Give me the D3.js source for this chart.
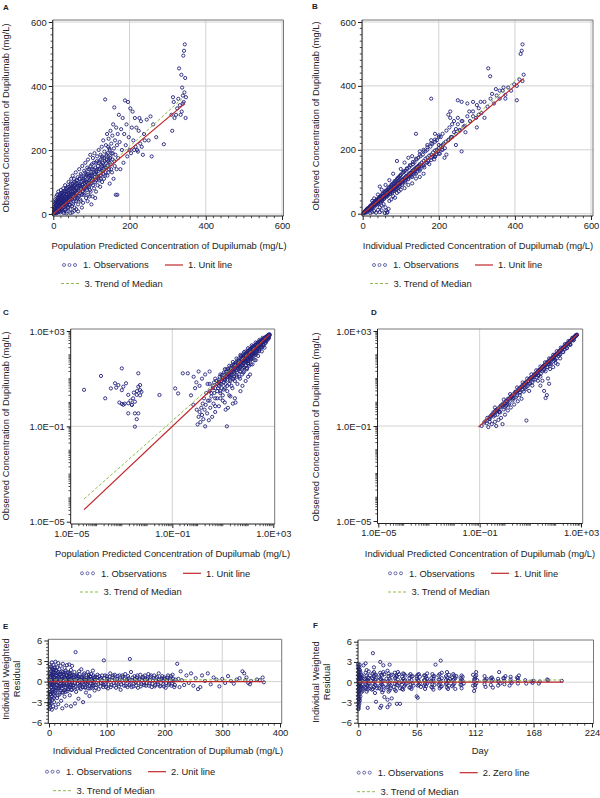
<!DOCTYPE html>
<html><head><meta charset="utf-8">
<script src="https://cdn.jsdelivr.net/npm/d3@7"></script>
<style>body{margin:0;background:#fff}svg{display:block}</style>
</head><body><svg id="chart" width="600" height="798"></svg>
<script>
// ---------------- DATA ----------------
const obsA = [[2,5],[3,15],[4,30],[5,8],[5,45],[6,20],[7,2],[8,35],[8,55],[9,12],[10,25],[10,60],[11,4],[12,40],[12,18],[13,70],[14,30],[15,8],[15,50],[16,22],[17,62],[18,38],[18,5],[19,15],[20,48],[20,75],[21,28],[22,10],[22,58],[23,35],[24,68],[25,20],[25,44],[26,80],[27,3],[27,52],[28,30],[29,62],[30,12],[30,40],[31,90],[32,55],[33,25],[34,72],[35,45],[35,8],[36,60],[37,35],[38,85],[39,18],[40,50],[40,100],
[41,30],[42,65],[43,78],[44,42],[45,95],[45,15],[46,55],[47,110],[48,70],[49,25],[50,85],[50,48],[51,120],[52,62],[53,38],[54,100],[55,75],[56,20],[57,90],[58,55],[59,130],[60,68],[60,40],[61,105],[62,82],[63,50],[64,115],[65,30],[66,95],[67,72],[68,140],[69,58],[70,88],[70,110],[71,45],[72,125],[73,78],[74,100],[75,60],[76,150],[77,92],[78,35],[79,118],[80,80],
[81,135],[82,65],[83,105],[84,160],[85,90],[86,50],[87,125],[88,75],[89,145],[90,100],[91,170],[92,60],[93,115],[94,85],[95,140],[96,110],[97,185],[98,70],[99,130],[100,95],[101,155],[102,120],[103,55],[104,175],[105,105],[106,140],[107,80],[108,190],[109,125],[110,100],[111,160],[112,70],[113,135],[114,115],[115,180],[116,90],[117,150],[118,125],[119,200],[120,105],
[121,165],[122,140],[123,85],[124,185],[125,120],[126,155],[127,210],[128,100],[129,175],[130,135],[131,230],[132,150],[133,110],[134,195],[135,165],[136,358],[137,130],[138,215],[139,180],[140,145],[141,250],[142,120],[143,190],[144,165],[145,235],[146,140],[147,205],[148,95],[149,175],[150,260],[151,155],[152,220],[153,190],[154,130],[155,245],[156,170],[157,280],[158,110],[159,205],[160,333],[161,150],[162,230],[163,185],[164,60],[165,270],[166,140],[167,215],[168,60],[169,250],[170,175],
[172,310],[174,225],[176,140],[178,265],[180,200],[182,300],[184,160],[186,250],[188,355],[190,215],[192,280],[194,180],[196,350],[198,240],[200,200],[202,330],[204,190],[206,270],[208,320],[210,230],[212,200],[214,300],[216,210],[218,270],[220,200],[222,195],[224,260],[226,300],[228,220],[230,290],[232,210],[235,185],[238,250],[240,230],[245,295],[250,230],[255,305],[258,180],[262,280],[270,240],[290,218],
[310,310],[312,260],[314,365],[316,350],[318,300],[322,310],[325,330],[328,360],[330,455],[332,340],[334,310],[336,435],[338,395],[340,370],[341,495],[342,350],[343,510],[344,380],[345,530],[346,425],[347,300],[348,365],[340,345],[337,320],
[35,2],[45,3],[55,10],[65,8],[75,20],[50,5],[60,15],[90,40],[100,30],[110,50],[95,55],
[1,1],[2,10],[3,22],[4,3],[5,35],[6,12],[7,28],[8,18],[9,42],[10,6],[11,32],[12,52],[13,14],[14,46],[15,26],[16,38],[17,10],[18,58],[19,30],[20,20],[21,42],[22,65],[23,16],[24,50],[25,32],[26,8],[27,40],[28,72],[29,22],[30,52],[31,35],[32,15],[33,48],[34,60],[35,28],[36,82],[37,50],[38,22],[39,65],[40,38],[42,55],[44,28],[46,80],[48,45],[50,65],[52,32],[54,88],[56,50],[58,75],[60,95],[62,45],[64,70],[66,55],[68,90],[70,65],[72,40],[74,85],[76,70],[78,105],[80,60],[82,95],[84,115],[86,80],[88,100],[90,125],[92,90],[94,105],[96,75],[98,120],[100,110],[104,90],[108,130],[112,105],[116,120],[120,140],[124,110],[128,150],[132,125],[136,145],[140,170],[144,130],[148,160],[152,140],[156,190],[160,165]];
const obsAcore = [[3,8],[4,18],[6,40],[7,15],[8,25],[9,5],[10,38],[11,20],[12,30],[13,45],[14,8],[15,35],[16,55],[17,25],[18,45],[19,65],[20,35],[21,55],[22,25],[23,50],[24,38],[25,60],[26,30],[27,65],[28,48],[29,35],[30,70],[31,55],[32,42],[33,78],[34,32],[35,62],[36,48],[37,72],[38,42],[39,55],[40,75],[41,45],[42,85],[43,58],[44,68],[45,50],[46,90],[47,62],[48,82],[49,48],[50,95],[51,70],[52,80],[53,58],[54,110],[55,65],[56,85],[57,72],[58,100],[59,60],[60,82],[62,105],[64,88],[66,75],[68,110],[70,95],[72,80],[74,120],[76,92],[78,72],[80,110],[82,85],[84,130],[86,100],[88,120],[90,85],[92,140],[94,120],[96,98],[98,150],[100,125],[102,140],[104,110],[106,160],[108,115],[110,145],[112,130],[114,165],[116,140],[118,110],[120,160],[122,120],[124,170],[126,135],[128,180],[130,160],[132,140],[134,175],[136,120],[138,160],[140,185],[142,150],[144,210],[146,170],[148,200],[150,180]];
const unitA = [[0,0],[345,345]];
const trendA = [[0,0],[170,178],[341,364]];

const obsB = [[2,1],[4,5],[5,2],[6,8],[8,6],[9,12],[10,9],[11,4],[12,14],[13,11],[14,17],[15,13],[16,10],[17,20],[18,16],[19,22],[20,18],[21,14],[22,26],[23,20],[24,28],[25,22],[26,18],[27,31],[28,25],[29,34],[30,27],[31,22],[32,36],[33,30],[34,40],[35,32],[36,28],[37,42],[38,35],[39,45],[40,37],[41,30],[42,48],[43,40],[44,50],[45,42],[46,36],[47,54],[48,45],[49,56],[50,47],[51,40],[52,60],[53,50],[54,62],[55,52],[56,46],[57,66],[58,55],[59,68],[60,57],[62,52],[63,72],[64,60],[65,75],[66,62],[67,58],[68,78],[69,66],[70,82],[71,68],[72,62],[73,85],[74,71],[75,88],[76,73],[77,66],[78,90],[79,75],[80,95],[81,78],[82,72],[83,96],[84,80],[85,100],[86,82],[87,76],[88,104],[89,86],[90,108],[91,88],[92,80],[93,110],[94,90],[95,115],[96,92],[97,85],[98,118],[99,96],[100,120],
[102,98],[104,90],[105,128],[106,104],[108,130],[110,105],[112,98],[113,135],[115,112],[117,140],[118,115],[120,108],[122,145],[124,120],[126,150],[128,122],[130,115],[132,155],[134,130],[136,160],[138,132],[140,125],[142,170],[144,140],[146,175],[148,142],[150,135],[152,180],[155,150],[158,185],[160,152],[162,145],[165,195],[168,160],[170,200],[172,165],[175,155],[178,210],[180,175],[183,218],[185,180],[188,170],[190,225],[193,185],[195,230],[198,195],[200,215],[203,188],[205,240],[208,200],[210,250],[213,220],[216,205],[220,260],[225,230],[228,270],[232,240],[235,280],[240,255],[245,265],[250,300],[255,260],[262,290],[268,275],[275,305],[282,290],[290,320],[298,300],[305,330],[312,315],[320,350],[328,335],[336,360],[345,345],[352,370],[360,360],[368,385],[375,372],[382,395],[390,385],[398,405],[405,400],[412,420],[420,415],[423,435],
[20,2],[25,5],[30,8],[35,3],[40,12],[45,20],[50,25],[55,30],[60,20],[62,10],[65,5],[68,15],[70,40],[75,45],[80,55],[85,50],[90,65],[95,70],[100,75],[110,80],[120,90],[130,95],[140,110],[150,115],[160,125],[45,5],[50,10],[58,2],[64,3],
[25,40],[30,48],[40,60],[45,85],[50,75],[60,90],[70,105],[80,125],[90,165],[100,140],[110,160],[120,175],[130,180],[140,250],[150,195],[160,200],[170,215],[180,230],[190,250],
[3,3],[7,7],[11,11],[15,16],[19,18],[23,24],[27,27],[31,32],[35,36],[39,38],[43,44],[47,47],[51,52],[55,56],[59,58],[63,64],[67,68],[71,72],[75,74],[79,80],[83,84],[87,86],[91,92],[95,96],[99,100],[103,104],[107,108],[111,112],[115,116],[119,120],[123,124],[127,128],[131,132],[135,136],[139,140],[143,144],[147,148],[151,152],
[180,360],[225,310],[230,320],[250,355],[260,350],[275,345],[290,350],[300,340],[310,350],[330,455],[335,430],[340,375],[350,390],[360,385],[370,395],[375,360],[405,355],[420,530],[418,510],[415,500],[260,195],[245,215],[270,255],[290,305],[305,310],[320,300],[300,270],[200,240],[190,180],[210,200],[215,175],[220,185],[230,300],[240,290],[250,280],[260,290],[280,320]];
const obsBcore = [[5,5],[10,12],[14,13],[18,19],[22,21],[26,27],[30,32],[34,33],[38,40],[42,41],[46,48],[50,50],[54,55],[58,60],[62,61],[66,68],[70,70],[74,76],[78,77],[82,84],[86,88],[90,90],[94,97],[98,98],[102,106],[106,108],[110,112],[114,118],[118,120],[122,126],[126,128],[130,134],[134,138],[138,142],[142,146],[146,150],[150,155],[155,160],[160,165],[165,172],[170,176],[175,182],[180,185],[185,192],[190,198],[195,200],[200,205],[205,212],[210,215],[218,225],[226,232],[235,240],[245,250],[255,262],[265,272],[8,4],[16,12],[24,18],[32,26],[40,33],[48,40],[56,48],[64,55],[72,63],[80,70],[88,78],[96,85],[104,95],[112,102],[120,110],[128,118],[136,125],[144,132],[152,140],[160,150],[170,160],[180,168],[190,178],[200,188],[12,16],[20,25],[28,35],[36,44],[44,53],[52,63],[60,72],[68,82],[76,92],[84,102],[92,112],[100,122],[108,133],[116,142],[124,152],[132,162],[140,172],[150,185],[160,195],[170,208],[180,220],[190,232],[200,245]];
const unitB = [[0,0],[423,423]];
const trendB = [[0,0],[210,214],[414,431]];

const obsC = [[3.2e-5,3.4],[1.5e-4,13],[2.2e-4,1.5],[3.7e-4,3.9],[5.4e-4,6.4],[7.3e-4,5.4],[1e-3,27],[1e-3,3.3],[1.15e-3,4.6],[1.47e-3,6.4],[1.8e-3,2.1],[1.8e-3,0.93],[1e-3,0.87],[2.5e-3,0.8],[3.3e-3,1.08],[3.9e-3,2.1],[4.5e-3,4.6],[4.5e-3,16.8],[5.3e-3,5.4],[5.3e-3,3.3],[3.3e-3,0.35],[3.9e-3,0.2],[3.3e-3,0.097],[1.8e-3,0.35],[1.15e-3,0.8],[2.5e-3,0.8],[4.5e-3,0.35],[5.3e-3,2.0],[6e-3,2.8],[4e-3,3.0],[2.2e-3,1.2],[1.3e-3,0.9],[8e-4,1.0],[6e-4,4.2],[2.8e-3,1.5],[3e-3,2.6],
[3.1e-2,2.07],[0.13,3.9],[0.17,2.4],[0.26,16.8],[0.41,16.8],[0.68,0.8],[0.93,0.5],
[1.0,0.12],[1.1,0.25],[1.2,0.4],[1.3,0.15],[1.4,0.6],[1.5,0.3],[1.6,0.9],[1.7,0.2],[1.8,1.5],[1.9,0.5],[2.0,0.1],[2.1,0.8],[2.2,2.5],[2.4,0.35],[2.6,1.2],[2.8,0.18],[3.0,3],[3.2,0.6],[3.5,1.8],[3.8,0.25],[4,5],[4.3,0.9],[4.6,2.5],[5,0.4],[5.5,8],[6,1.5],[6.5,4],[7,0.7],[7.5,12],[8,2.5],[9,6],[10,1.2],[10,15],[11,3.5],[12,9],[13,0.5],[14,25],[15,5],[16,12],[18,2],[20,30],[20,8],[22,18],[24,4],[26,40],[28,12],[30,25],[32,1.0],[34,50],[36,18],[38,6],[40,35],[42,70],[45,25],[48,10],[50,55],[52,90],[55,35],[58,15],[60,75],[63,45],[66,110],[70,30],[72,60],[75,90],[80,140],[85,50],[90,110],[95,70],[100,150],[105,40],[110,120],[115,90],[120,180],[125,60],[130,140],[140,200],[145,100],[150,160],[160,230],[170,120],[180,190],[190,260],[200,150],[210,220],[220,300],[240,180],[250,260],[260,340],[280,220],[300,300],[320,380],[340,280],[350,350],[380,420],[400,330],[450,480],[500,450],[550,550],[600,600],[650,680],[700,700],[620,520],[480,400],
[0.55,2],[0.7,12],[0.8,4],[0.9,7],[1.1,20],[1.5,10],[2,15],[3,20],[2.5,6],[1.2,5],[14.5,0.1],
[30,1.5],[50,3],[60,5],[80,8],[100,12],[120,15],[70,20],[90,25],[110,35],[150,40],[200,60],[130,70],
[5,4],[6,6],[7,5],[8,9],[9,8],[10,11],[12,10],[14,13],[16,17],[18,15],[20,22],[23,20],[26,28],[30,27],[34,36],[38,33],[42,45],[47,42],[52,56],[58,50],[64,68],[70,62],[78,82],[86,75],[95,100],[105,92],[115,120],[128,110],[140,150],[155,135],[170,180],[185,165],[200,210],[220,195],[240,250],[265,235],[290,300],[320,290],[350,370],[390,360],[430,450],[470,440],[520,540],[570,560],[630,650],[680,660],
[5,1.5],[8,3],[12,4],[18,6],[25,10],[35,14],[50,20],[70,30],[100,45],[140,70],[200,100],[280,150],[380,220],[500,320],[10,2],[15,3],[22,5],[30,8],[45,12],[65,18],[90,28],[130,40],[180,60],[250,90],[350,140],[450,200],
[3,6],[5,10],[8,15],[12,25],[18,35],[25,50],[35,70],[50,100],[70,130],[100,190],[140,250],[200,330],[280,420],[380,520],
[11,7],[13,16],[15,9],[17,21],[19,12],[21,26],[24,15],[27,33],[29,18],[33,22],[37,45],[41,27],[44,55],[49,32],[54,66],[59,38],[62,80],[68,45],[74,95],[82,55],[88,115],[96,62],[108,130],[118,75],[126,165],[135,88],[148,190],[162,100],[175,220],[192,120],[205,260],[228,140],[245,300],[270,170],[295,350],[330,210],[360,420],[400,260],[440,500],[490,330],[540,600],[590,420],[640,700],[680,520],[700,640],[720,720],[650,600],[560,500],[460,380],[410,400],[310,260],[230,190],[160,130],[110,85],[80,60],[55,42],[38,28],[26,19],[18,13],[12,9],[8,6],
[3,1.2],[5,0.7],[8,1.5],[12,1.0],[16,0.6],[20,1.8],[25,0.9]];
const obsCcore = [[3.5,2.5],[4.5,7],[6,3],[7,9],[9,4],[11,18],[13,6],[16,25],[19,9],[23,35],[27,10],[32,45],[36,12],[42,60],[48,20],[55,85],[62,28],[70,100],[80,35],[90,130],[100,55],[115,160],[130,65],[150,220],[170,90],[190,250],[215,120],[240,320],[270,140],[300,380],[340,200],[380,460],[420,260],[470,540],[520,380],[580,620],[640,480],[690,680],[9,14],[14,20],[21,14],[31,38],[46,30],[68,80],[98,70],[145,120],[210,180],[300,240],[440,360],[600,520],[25,25],[40,40],[60,60],[90,90],[135,135],[200,200],[300,300],[450,450],[15,15],[10,10],[7,7],[4,4]];
const unitC = [[3.2e-5,3.2e-5],[700,700]];
const trendC = [[3.2e-5,9e-5],[0.1,0.17],[700,700]];

const obsD = [[0.3,0.3],[0.5,0.45],[0.7,0.75],[1,0.9],[1.3,1.4],[1.8,1.7],[2.5,2.6],[3.2,3],[4,4.2],[5,4.8],[6.5,6.8],[8,7.5],[10,10.5],[12,11.5],[15,15.5],[18,17],[22,23],[27,26],[33,34],[40,38],[48,50],[58,55],[70,72],[85,82],[100,104],[120,115],[145,150],[170,165],[200,205],[240,235],[290,295],[340,335],[400,410],[470,460],[550,560],[620,610],[700,700],
[0.4,0.6],[0.6,0.4],[0.9,1.3],[1.2,0.8],[1.6,2.2],[2.2,1.5],[3,4.2],[3.8,2.6],[5,6.8],[6,4],[7.5,10],[9,6],[11,15],[13,9],[17,22],[20,13],[25,32],[30,20],[38,48],[45,30],[55,70],[65,42],[80,100],[95,60],[110,140],[130,90],[160,200],[190,130],[230,280],[270,190],[320,380],[380,280],[450,520],[520,420],[600,650],
[0.19,0.13],[0.22,0.09],[0.25,0.2],[0.3,0.12],[0.35,0.25],[0.4,0.15],[0.45,0.1],[0.5,0.3],[0.55,0.18],[0.6,0.4],[0.7,0.22],[0.8,0.12],[0.9,0.5],[1.0,0.3],[1.1,0.7],[1.3,0.45],[1.5,0.9],[1.7,0.6],[2,1.2],[2.3,0.8],[2.7,1.6],[3.2,1.1],[3.8,2],[4.5,1.4],[5.5,2.8],[6.5,3.5],[7,0.17],[9,3],[12,5],[20,8],[25,12],[40,20],[50,10],[60,25],[80,30],[100,45],[120,40],[150,70],
[25,5],[35,3],[45,2],[55,6],[40,1.5],[30,8],
[0.15,0.14],[0.2,0.22],[0.25,0.24],[0.35,0.38],[0.45,0.42],[0.6,0.62],[0.8,0.78],[1.1,1.15],[1.5,1.45],[2,2.1],[2.8,2.7],[3.5,3.7],[4.5,4.3],[5.5,5.8],[7,6.6],[9,9.5],[11,10.5],[14,14.5],[16,15.2],[20,21],[24,23],[30,31],[36,34],[44,46],[52,50],[63,66],[76,72],[92,96],[110,105],[132,138],[158,150],[185,192],[220,212],[260,270],[310,300],[370,380],[430,420],[500,510],[580,570],[660,670],
[8,5],[12,7],[18,11],[26,16],[34,22],[48,30],[62,40],[85,55],[110,70],[150,100],[200,130],[280,190],[380,260]];
const obsDcore = [[0.12,0.1],[0.17,0.16],[0.23,0.2],[0.28,0.27],[0.33,0.3],[0.38,0.36],[0.42,0.45],[0.48,0.5],[0.52,0.48],[0.65,0.6],[0.75,0.7],[0.85,0.9],[0.95,0.85],[1.2,1.1],[1.4,1.3],[1.7,1.8],[1.9,1.7],[2.4,2.3],[2.6,2.8],[3.4,3.2],[4.2,4],[4.8,5.1],[6,5.6],[6.8,7],[8.5,8],[10.5,10],[13,12.5],[15,14],[19,18.5],[23,22],[28,28],[32,30],[37,38],[42,40],[50,48],[56,57],[66,63],[74,75],[82,80],[90,92],[105,100],[125,122],[140,135],[165,160],[180,182],[210,205],[250,245],[275,280],[330,320],[360,365],[420,410],[490,480],[540,550],[610,600],[680,690],[0.25,0.15],[0.4,0.28],[0.65,0.38],[1.0,0.6],[1.4,0.8],[2.0,1.4],[3,1.9],[4,2.6],[5,3.4],[7,4.5],[10,6.5],[15,9],[22,14],[35,25],[55,40],[90,65],[140,105],[230,170],[350,270],[500,400]];
const unitD = [[0.09,0.09],[700,700]];
const trendD = [[0.09,0.095],[700,700]];

const obsE = [[0.5,-4],[1,-3.5],[1,2.5],[1.5,-2.8],[2,1.8],[2,-1.5],[2.5,0.5],[3,-3.2],[3,2.2],[3.5,-0.8],[4,1.2],[4,-2.2],[4.5,0.2],[5,-4.1],[5,2.8],[5.5,-1.2],[6,0.8],[6,-2.6],[6.5,1.9],[7,-0.4],[7,-3.6],[7.5,1.4],[8,-1.8],[8,2.4],[8.5,0.3],[9,-0.9],[9,-3],[9.5,1.7],[10,-2.1],[10,0.6],
[11,2.9],[11,-1.4],[12,0.9],[12,-3.8],[13,-0.3],[13,1.6],[14,-2.4],[14,2.1],[15,0.4],[15,-1],[16,2.7],[16,-3.3],[17,1.1],[17,-0.6],[18,-1.9],[18,1.8],[19,0.1],[20,2.3],[20,-1.3],[21,-2.8],[21,0.7],[22,1.5],[22,-0.5],[23,-3.9],[24,2.6],[24,0.2],[25,-1.6],[25,1.2],[26,-0.2],[27,2],[27,-2.2],[28,0.5],[29,-0.9],[29,1.6],[30,-3.5],[31,0.9],[31,2.4],[32,-1.4],[33,0.3],[34,1.3],[34,-0.4],[35,2.5],[36,-2],[36,0.7],[37,-0.8],[38,1.7],[38,-3.6],[39,0.1],[40,-1.2],[40,2.3],
[42,0.6],[43,-0.9],[44,1.4],[45,-3.2],[46,4.3],[46,0.2],[47,-1.5],[48,1.0],[49,-0.3],[50,0.8],[51,-2.5],[52,1.5],[53,-0.6],[54,0.3],[55,-1.1],[56,1.8],[57,-0.2],[58,0.7],[59,-3.0],[60,0.4],[61,1.2],[62,-0.8],[63,0.1],[64,-1.6],[65,0.9],[66,-0.4],[67,1.4],[68,-1.0],[69,0.5],[70,-2.1],[71,0.8],[72,-0.3],[73,1.1],[74,-0.9],[75,0.2],[76,1.6],[77,-0.6],[78,0.6],[79,-1.3],[80,0.3],[82,-0.5],[84,1.0],[86,-1.1],[88,0.4],[90,-0.2],[92,0.9],[94,-0.8],[95,3.1],[96,0.5],[98,-0.4],[100,0.8],
[102,-1.0],[104,0.3],[106,1.2],[108,-0.5],[110,0.6],[112,-0.2],[114,1.0],[116,-0.9],[118,0.4],[120,-0.4],[122,0.9],[124,-1.2],[126,0.2],[128,0.7],[130,-0.6],[132,1.1],[134,0.1],[136,-0.8],[138,0.5],[140,3.3],[140,-0.3],[142,1.4],[144,0.2],[146,-0.7],[148,0.8],[150,-0.1],[152,0.6],[154,-0.9],[156,0.3],[158,1.0],[160,-0.4],[162,0.5],[164,-0.2],[166,0.9],[168,-0.6],[170,0.4],[172,1.1],[174,-0.3],[176,0.7],[178,-0.8],[180,0.2],[182,0.9],[184,-0.5],[186,0.5],[188,-0.1],[190,1.2],[192,-0.7],[194,0.3],[196,0.8],[198,-0.4],[200,0.6],[202,-0.9],[204,0.2],[206,0.9],[208,-0.3],[210,0.5],[212,-0.6],[214,1.0],[216,0.1],[218,-0.5],
[222,2.6],[224,0.4],[226,-0.8],[228,1.5],[230,0.2],[234,-0.5],[238,0.9],[242,-0.2],[246,1.2],[250,-0.6],[254,0.5],[258,-1.1],[262,-0.8],[265,0.9],[270,0.1],[275,1.2],[280,-0.4],[285,0.6],[290,0.3],[295,-0.7],[300,0.4],[305,-0.2],[310,0.8],[315,0.1],[320,-0.3],[325,0.3],[330,0.5],[335,1.5],[338,1.2],[340,0.2],[342,0.6],[345,-0.2],[348,-0.4],[350,0.1],[360,0.3],[365,0.2],[370,0.6],[372,-0.1],
[1,0],[2,-0.6],[3,0.9],[4,-1.4],[5,0.3],[6,-0.2],[7,1.1],[8,-0.7],[9,0.5],[10,-0.1],[11,0.9],[12,-0.9],[13,0.4],[14,-0.5],[15,1.2],[16,-0.1],[17,0.6],[18,-0.8],[19,1.0],[20,-0.3],[21,0.2],[22,-1.0],[23,0.8],[24,-0.6],[25,0.1],[26,1.0],[27,-0.5],[28,-1.2],[29,0.4],[30,0.9],[31,-0.3],[32,0.6],[33,-0.7],[34,0.2],[35,-0.1],[36,1.1],[37,0.4],[38,-0.5],[39,0.8],[40,-0.2],[42,-0.5],[44,0.3],[46,-0.8],[48,0.5],[50,-0.3],[52,0.2],[54,-0.9],[56,0.6],[58,-0.4],[60,1.0],[62,0.2],[64,-0.2],[66,0.6],[68,0.3],[70,-0.6],[72,0.7],[74,0.1],[76,-0.3],[78,-0.1],[80,0.7],[85,0.2],[90,0.5],[95,-0.5],[100,0.1],
[0.5,-1.5],[0.8,-2.3],[1.2,-3],[1.5,-1.9],[2.2,-3.8],[2.8,-2.5],[3.3,-1.8],[0.7,-3.2]];
const obsEcore = [[0.5,0.3],[1,1.2],[1.5,-0.4],[2,0.7],[2.5,-1.8],[3,-0.2],[3.5,1.5],[4,-0.9],[4.5,2.0],[5,-0.5],[5.5,1.0],[6,-1.6],[6.5,0.1],[7,1.7],[7.5,-1.1],[8,0.6],[8.5,-2.4],[9,1.3],[9.5,-0.3],[10,2.1],[10.5,-1.6],[11,0.2],[12,1.6],[13,-1.3],[14,0.9],[15,-2.0],[16,1.4],[17,-1.0],[18,0.4],[19,-1.6],[20,1.1],[21,-0.7],[22,0.4],[23,-1.6],[24,1.4],[25,-0.4],[26,-1.3],[27,0.7],[28,1.3],[29,-1.5],[30,0.2],[31,-0.6],[32,1.4],[33,-1.1],[34,0.8],[35,-0.8],[36,0.3],[37,1.2],[38,-1.2],[39,0.5],[40,1.0],[41,-0.6],[43,0.9],[45,-0.2],[47,0.8],[49,-1.0],[51,0.5],[53,1.1],[55,-0.4],[57,0.6],[59,-0.8],[61,0.3],[63,-0.9],[65,0.2],[67,-0.3],[69,1.0],[71,-1.0],[73,0.4],[75,-0.6],[77,0.9],[79,0.2],[81,-0.9],[83,0.6],[85,-0.4],[87,0.8],[89,-0.7],[91,0.2],[93,-0.3],[97,0.9],[99,-0.8],[101,0.4],[103,-0.4],[105,0.7],[107,-0.8],[109,0.2],[111,0.9],[113,-0.6],[115,0.4],[117,-0.2],[119,0.8],[121,-0.7],[123,0.3],[125,-0.4],[127,0.9],[129,-0.2],[131,0.5],[133,-0.6],[135,0.3],[137,0.8],[139,-0.5],[141,0.2],[143,-0.8],[145,0.6],[147,-0.3],[149,0.4],[151,-0.6],[153,0.9],[155,-0.2],[157,0.4],[159,-0.7],[161,0.2],[163,0.7],[165,-0.5],[167,0.3],[169,-0.2],[171,0.6],[173,-0.6],[175,0.2],[177,0.9],[179,-0.3],[181,0.5],[183,-0.7],[185,0.1],[187,0.7],[189,-0.4],[191,0.3],[193,-0.6],[195,0.5],[197,0.1],[199,-0.7],[201,0.4],[203,-0.2],[205,0.6],[207,-0.5],[209,0.2],[211,0.8],[213,-0.3],[215,0.4],[217,-0.8],[219,0.3]];
const unitE = [[0,0],[372,0]];
const trendE = [[0,0.25],[372,0.25]];

const obsF = [[0,-4],[0,-3],[0,-2],[0,-1],[0,0],[0,1],[0,2],[0,2.7],[0.5,-3.6],[0.5,-2.5],[0.5,-1.5],[0.5,-0.5],[0.5,0.5],[0.5,1.5],[1,-3.2],[1,-1.8],[1,-0.8],[1,0.3],[1,1.2],[1,2.2],[1.5,-2.7],[1.5,-0.2],[1.5,0.8],[1.5,1.8],[2,-1.2],[2,0.1],[2,1.5],[2.5,-0.6],[2.5,0.6],[3,-1.5],[3,0.2],[3,1.1],[4,-0.4],[4,0.9],[5,-1.0],[5,2.5],
[6,-0.8],[6,0.5],[7,1.4],[7,-0.3],[7,2.8],[8,-1.4],[8,0.2],[8,1.0],[9,-0.5],[9,-3.8],[9,0.7],[10,1.6],[10,-0.9],[10,0.1],
[13,-1.1],[13,0.6],[14,1.3],[14,-0.2],[14,4.3],[15,-0.7],[15,0.9],[15,2.2],[16,-1.6],[16,0.3],[17,1.1],[17,-0.5],[17,-2.9],
[20,-0.9],[20,0.7],[21,-3.8],[21,1.4],[21,3.0],[22,-0.3],[22,-3.5],[22,0.4],[23,1.0],[23,-1.5],[24,2.5],[24,-0.6],[24,0.2],[25,-2.2],[25,1.2],
[27,-0.8],[27,0.5],[28,-3.7],[28,1.7],[28,-2.6],[29,-0.2],[29,0.9],[30,-1.2],[30,2.6],[30,-3.3],[31,0.3],[31,-0.9],[32,1.1],[32,-2.4],
[34,-0.7],[35,0.6],[35,1.4],[36,-1.3],[36,0.1],[37,0.9],[37,-3.2],[38,-0.5],[38,0.4],[39,1.2],[40,-0.9],[40,-3.2],
[42,0.8],[42,-0.4],[43,1.3],[43,-1.1],[44,0.2],[44,-0.6],[45,1.0],[46,-0.2],
[49,-0.8],[49,0.6],[50,1.2],[50,-0.3],[51,0.3],[51,-1.0],[52,0.9],[53,-0.5],
[56,-2.1],[56,0.5],[57,-2.3],[57,1.1],[58,-0.4],[58,0.2],[59,0.8],[60,-0.7],
[63,1.0],[63,-0.5],[64,0.3],[64,-1.0],[65,0.8],[66,-0.2],[66,1.3],[67,0.1],
[70,-0.7],[70,0.6],[71,1.2],[71,-0.3],[72,0.2],[72,-1.1],[73,0.9],[74,2.6],
[77,-0.4],[77,1.0],[78,0.4],[78,-0.9],[79,3.2],[79,0.1],[80,1.4],[80,-0.6],
[84,-0.3],[84,0.9],[85,1.5],[85,-0.8],[86,0.2],[87,-0.5],[87,1.1],[88,0.5],
[90,-0.6],[90,0.7],[91,1.2],[92,-0.2],[92,0.4],[93,-1.0],[94,0.9],
[98,-0.4],[98,0.6],[99,1.0],[99,-0.9],[100,0.2],[101,-0.2],
[110,-0.5],[110,1.1],[111,-1.3],[111,0.4],[112,0.8],[112,-0.8],[113,-0.2],[113,1.5],[114,0.3],
[121,0.9],[121,-0.3],[122,0.3],[122,-0.7],[123,0.5],
[127,-0.4],[127,0.6],[128,0.2],[129,-0.8],[129,0.4],
[134,0.5],[134,-0.5],[135,1.5],[135,0.1],[136,-0.2],
[139,0.6],[140,-0.3],[140,0.2],[141,0.9],
[145,-0.5],[146,0.4],[146,0.8],[147,-0.1],
[152,0.7],[153,-0.2],[153,0.3],[154,1.0],
[166,0.1],[167,-0.1],[168,0.2],[173,-0.2],[174,0.1],[181,0.4],[182,0.3],[195,0.2]];
const obsFcore = [[0,-3.5],[0,-2.5],[0,-1.5],[0,-0.5],[0,0.5],[0,1.5],[0,2.3],[0.3,-3.9],[0.3,-2.1],[0.3,-1.1],[0.3,0.2],[0.3,1.1],[0.8,-2.9],[0.8,-1.3],[0.8,-0.2],[0.8,0.9],[0.8,1.9],[1.2,-2.4],[1.2,-0.5],[1.2,0.6],[1.2,2.6],[2,-2.1],[2,-0.6],[2,0.8],[3,-0.7],[3,0.7],[4,0.2],[4,-1.3],
[7,-0.9],[7,0.4],[8,-0.4],[8,1.8],[9,0.3],[9,-1.1],[10,0.6],[10,-0.2],[11,1.0],[11,-0.6],
[14,0.5],[14,-1.0],[15,0.1],[15,1.5],[16,-0.4],[16,1.0],[17,0.4],[18,-0.9],
[21,-0.5],[21,0.5],[22,1.1],[22,-1.1],[23,0.2],[23,-0.4],[24,1.5],[24,-1.2],
[28,0.1],[28,-0.7],[29,1.3],[29,-1.4],[30,0.5],[30,-0.3],[31,1.0],[31,-0.5],
[35,-0.2],[35,-1.1],[36,0.7],[36,1.0],[37,-0.4],[38,1.5],[39,-0.1],
[42,0.2],[42,-1.0],[43,0.5],[44,1.2],[45,-0.4],[45,0.3],
[49,0.1],[49,1.0],[50,-0.8],[51,0.8],[52,-0.2],
[56,0.9],[57,-0.5],[57,0.3],[58,1.2],[59,-0.2],
[63,0.3],[64,-0.3],[64,1.0],[65,-0.6],[66,0.5],
[70,0.1],[71,-0.8],[72,0.9],[72,0.5],[73,-0.4],
[77,0.4],[78,1.2],[78,-0.2],[79,-0.7],[80,0.6],
[84,0.3],[85,-0.2],[85,0.7],[86,-1.0],[87,0.2],
[91,-0.4],[91,0.3],[92,1.0],[93,0.6],
[98,0.1],[99,0.4],[99,-0.4],[100,0.8],
[111,0.1],[112,0.5],[112,-0.4],[113,1.0],
[121,0.3],[128,0.7],[134,0.1],[140,0.6],[146,0.1],[153,0.6],[160,0.3],[161,-0.2]];
const zeroF = [[0,0],[196,0]];
const trendF = [[0,0.1],[100,0.15],[196,0.35]];

const ticksConc = [0,200,400,600];
const ticksLog = [1e-5,1e-1,1e3];
const labelsLog = ["1.0E\u221205","1.0E\u221201","1.0E+03"];
const ticksIpredE = [0,100,200,300,400];
const ticksRes = [-6,-3,0,3,6];
const labelsRes = ["\u22126","\u22123","0","3","6"];
const ticksDay = [0,56,112,168,224];

// ---------------- DRAWING ----------------
const FONT = "'Liberation Sans', Arial, Helvetica, sans-serif";
const FS = 9.4;
const RED = "#c0272d", GREEN = "#8fbb4a", NAVY = "#23237c", INK = "#222";
const svg = d3.select("#chart");

function minorLinear(dom, step, majors) {
  const out = [];
  for (let v = dom[0]; v <= dom[1] + 1e-9; v += step) {
    const r = Math.round(v * 1000) / 1000;
    if (!majors.some(m => Math.abs(m - r) < 1e-9)) out.push(r);
  }
  return out;
}
function minorLog(lo, hi) {
  const out = [];
  for (let e = lo; e < hi; e++) for (let k = 1; k <= 9; k++) {
    if (k === 1 && e === lo) continue;
    out.push(k * Math.pow(10, e));
  }
  return out;
}

function drawPanel(p) {
  const g = svg.append("g");
  const xs = (p.log ? d3.scaleLog() : d3.scaleLinear()).domain(p.xDom).range(p.xRange);
  const ys = (p.log ? d3.scaleLog() : d3.scaleLinear()).domain(p.yDom).range(p.yRange);
  const [fl, ft, fr, fb] = p.frame;

  g.append("g").selectAll("line").data(p.xGrid).join("line")
    .attr("x1", d => xs(d)).attr("x2", d => xs(d)).attr("y1", ft).attr("y2", fb)
    .attr("stroke", "#d2d2d2").attr("stroke-width", 1);
  g.append("g").selectAll("line").data(p.yGrid).join("line")
    .attr("y1", d => ys(d)).attr("y2", d => ys(d)).attr("x1", fl).attr("x2", fr)
    .attr("stroke", "#d2d2d2").attr("stroke-width", 1);

  g.append("g").selectAll("circle").data(p.obs).join("circle")
    .attr("cx", d => xs(d[0])).attr("cy", d => ys(d[1])).attr("r", 1.6)
    .attr("fill", "none").attr("stroke", NAVY).attr("stroke-width", 0.9);

  const line = d3.line().x(d => xs(d[0])).y(d => ys(d[1]));
  g.append("path").datum(p.trend).attr("d", line).attr("fill", "none")
    .attr("stroke", GREEN).attr("stroke-width", 1).attr("stroke-dasharray", "3,2");
  g.append("path").datum(p.ref).attr("d", line).attr("fill", "none")
    .attr("stroke", RED).attr("stroke-width", 1.2);

  g.append("line").attr("x1", fl).attr("x2", fr).attr("y1", ft).attr("y2", ft).attr("stroke", "#777");
  g.append("line").attr("x1", fr).attr("x2", fr).attr("y1", ft).attr("y2", fb).attr("stroke", "#777");
  g.append("line").attr("x1", fl).attr("x2", fl).attr("y1", ft).attr("y2", fb).attr("stroke", INK);
  g.append("line").attr("x1", fl).attr("x2", fr).attr("y1", fb).attr("y2", fb).attr("stroke", INK);

  const axB = d3.axisBottom(xs).tickValues(p.xTicks).tickFormat((d, i) => p.xLabels[i]).tickSize(4).tickPadding(2);
  const gb = g.append("g").attr("transform", `translate(0,${fb})`).call(axB);
  const axL = d3.axisLeft(ys).tickValues(p.yTicks).tickFormat((d, i) => p.yLabels[i]).tickSize(4).tickPadding(2);
  const gl = g.append("g").attr("transform", `translate(${fl},0)`).call(axL);
  [gb, gl].forEach(a => {
    a.select(".domain").remove();
    a.attr("font-family", FONT).attr("font-size", FS);
    a.selectAll("line").attr("stroke", INK);
    a.selectAll("text").attr("fill", INK);
  });
  g.append("g").selectAll("line").data(p.xMinor).join("line")
    .attr("x1", d => xs(d)).attr("x2", d => xs(d)).attr("y1", fb).attr("y2", fb + 2.2)
    .attr("stroke", INK).attr("stroke-width", 0.8);
  g.append("g").selectAll("line").data(p.yMinor).join("line")
    .attr("y1", d => ys(d)).attr("y2", d => ys(d)).attr("x1", fl).attr("x2", fl - 2.2)
    .attr("stroke", INK).attr("stroke-width", 0.8);

  g.append("text").attr("x", p.xTitle[0]).attr("y", p.xTitle[1]).attr("text-anchor", "middle")
    .attr("font-family", FONT).attr("font-size", FS).attr("fill", INK).text(p.xTitle[2]);
  p.yTitle.forEach(t => {
    g.append("text").attr("transform", `translate(${t[0]},${t[1]}) rotate(-90)`)
      .attr("text-anchor", "middle").attr("dy", "0.35em")
      .attr("font-family", FONT).attr("font-size", FS).attr("fill", INK).text(t[2]);
  });
  g.append("text").attr("x", p.letter[0]).attr("y", p.letter[1]).attr("font-family", FONT)
    .attr("font-size", 8).attr("font-weight", "bold").attr("fill", INK).text(p.letter[2]);

  const L = p.legend;
  const lg = g.append("g").attr("font-family", FONT).attr("font-size", FS).attr("fill", INK);
  [2, 7.5, 13].forEach(o => lg.append("circle").attr("cx", L.x + o).attr("cy", L.y1).attr("r", 1.5)
    .attr("fill", "none").attr("stroke", "#4a4a9a").attr("stroke-width", 0.8));
  lg.append("text").attr("x", L.x + 21).attr("y", L.y1).attr("dy", "0.35em").text(L.t1);
  lg.append("line").attr("x1", L.x + 103).attr("x2", L.x + 121).attr("y1", L.y1).attr("y2", L.y1)
    .attr("stroke", RED).attr("stroke-width", 1.2);
  lg.append("text").attr("x", L.x + 126).attr("y", L.y1).attr("dy", "0.35em").text(L.t2);
  lg.append("line").attr("x1", L.x2).attr("x2", L.x2 + 18).attr("y1", L.y2).attr("y2", L.y2)
    .attr("stroke", GREEN).attr("stroke-width", 1).attr("stroke-dasharray", "3,2");
  lg.append("text").attr("x", L.x2 + 23.5).attr("y", L.y2).attr("dy", "0.35em").text(L.t3);
}

const YT = "Observed Concentration of Dupilumab (mg/L)";
const XPOP = "Population Predicted Concentration of Dupilumab (mg/L)";
const XIND = "Individual Predicted Concentration of Dupilumab (mg/L)";
const concLabels = ticksConc.map(String);
const logMinor = minorLog(-5, 3).filter(v => !ticksLog.includes(v));

drawPanel({ obs: obsA.concat(obsAcore), ref: unitA, trend: trendA, xDom: [0,600], yDom: [0,600],
  xRange: [53.3, 282], yRange: [214, 22], frame: [52.7, 20, 283.5, 216],
  xTicks: ticksConc, xLabels: concLabels, yTicks: ticksConc, yLabels: concLabels,
  xGrid: [0,200,400,600], yGrid: [0,200,400,600],
  xMinor: minorLinear([0,600], 20, ticksConc), yMinor: minorLinear([0,600], 20, ticksConc),
  xTitle: [169, 248.5, XPOP], yTitle: [[6, 118, YT]], letter: [3, 10, "A"],
  legend: { x: 62, y1: 265, x2: 61, y2: 283.5, t1: "1. Observations", t2: "1. Unit line", t3: "3. Trend of Median" } });

drawPanel({ obs: obsB.concat(obsBcore), ref: unitB, trend: trendB, xDom: [0,600], yDom: [0,600],
  xRange: [362.7, 591], yRange: [213.7, 22], frame: [362, 20, 593, 216],
  xTicks: ticksConc, xLabels: concLabels, yTicks: ticksConc, yLabels: concLabels,
  xGrid: [0,200,400,600], yGrid: [0,200,400,600],
  xMinor: minorLinear([0,600], 20, ticksConc), yMinor: minorLinear([0,600], 20, ticksConc),
  xTitle: [478, 248.5, XIND], yTitle: [[316, 116, YT]], letter: [312, 9, "B"],
  legend: { x: 372, y1: 265, x2: 370, y2: 283.5, t1: "1. Observations", t2: "1. Unit line", t3: "3. Trend of Median" } });

drawPanel({ log: true, obs: obsC.concat(obsCcore), ref: unitC, trend: trendC, xDom: [1e-5,1e3], yDom: [1e-5,1e3],
  xRange: [71.3, 273.3], yRange: [521.7, 331], frame: [70.7, 329, 274.7, 524],
  xTicks: ticksLog, xLabels: labelsLog, yTicks: ticksLog, yLabels: labelsLog,
  xGrid: [1e-1], yGrid: [1e-1], xMinor: logMinor, yMinor: logMinor,
  xTitle: [172.5, 556.7, XPOP], yTitle: [[6, 426, YT]], letter: [3, 314.5, "C"],
  legend: { x: 80, y1: 573.3, x2: 80, y2: 592, t1: "1. Observations", t2: "1. Unit line", t3: "3. Trend of Median" } });

drawPanel({ log: true, obs: obsD.concat(obsDcore), ref: unitD, trend: trendD, xDom: [1e-5,1e3], yDom: [1e-5,1e3],
  xRange: [378.3, 581], yRange: [521, 331], frame: [377.5, 329, 582.7, 523.5],
  xTicks: ticksLog, xLabels: labelsLog, yTicks: ticksLog, yLabels: labelsLog,
  xGrid: [1e-1], yGrid: [1e-1], xMinor: logMinor, yMinor: logMinor,
  xTitle: [480, 556.7, XIND], yTitle: [[316, 427, YT]], letter: [371, 314.5, "D"],
  legend: { x: 388, y1: 573.3, x2: 388, y2: 592, t1: "1. Observations", t2: "1. Unit line", t3: "3. Trend of Median" } });

drawPanel({ obs: obsE.concat(obsEcore), ref: unitE, trend: trendE, xDom: [0,400], yDom: [-6,6],
  xRange: [49, 280], yRange: [722.7, 640.5], frame: [48.3, 639.3, 281.7, 723.5],
  xTicks: ticksIpredE, xLabels: ticksIpredE.map(String), yTicks: ticksRes, yLabels: labelsRes,
  xGrid: [100,200,300], yGrid: [-3,0,3],
  xMinor: minorLinear([0,400], 10, ticksIpredE), yMinor: minorLinear([-6,6], 0.5, ticksRes),
  xTitle: [168, 754.4, XIND], yTitle: [[6, 679, "Individual Weighted"], [17, 679, "Residual"]], letter: [3, 628.5, "E"],
  legend: { x: 45, y1: 771.7, x2: 53, y2: 790.7, t1: "1. Observations", t2: "2. Unit line", t3: "3. Trend of Median" } });

drawPanel({ obs: obsF.concat(obsFcore), ref: zeroF, trend: trendF, xDom: [0,224], yDom: [-6,6],
  xRange: [358.3, 592], yRange: [722.7, 641.7], frame: [358, 640, 593.5, 723.5],
  xTicks: ticksDay, xLabels: ticksDay.map(String), yTicks: ticksRes, yLabels: labelsRes,
  xGrid: [56,112,168], yGrid: [-3,0,3],
  xMinor: minorLinear([0,224], 7, ticksDay), yMinor: minorLinear([-6,6], 0.5, ticksRes),
  xTitle: [480, 754, "Day"], yTitle: [[316, 682, "Individual Weighted"], [327, 682, "Residual"]], letter: [313, 627.5, "F"],
  legend: { x: 356.7, y1: 772.7, x2: 357, y2: 791.7, t1: "1. Observations", t2: "2. Zero line", t3: "3. Trend of Median" } });
</script></body></html>
